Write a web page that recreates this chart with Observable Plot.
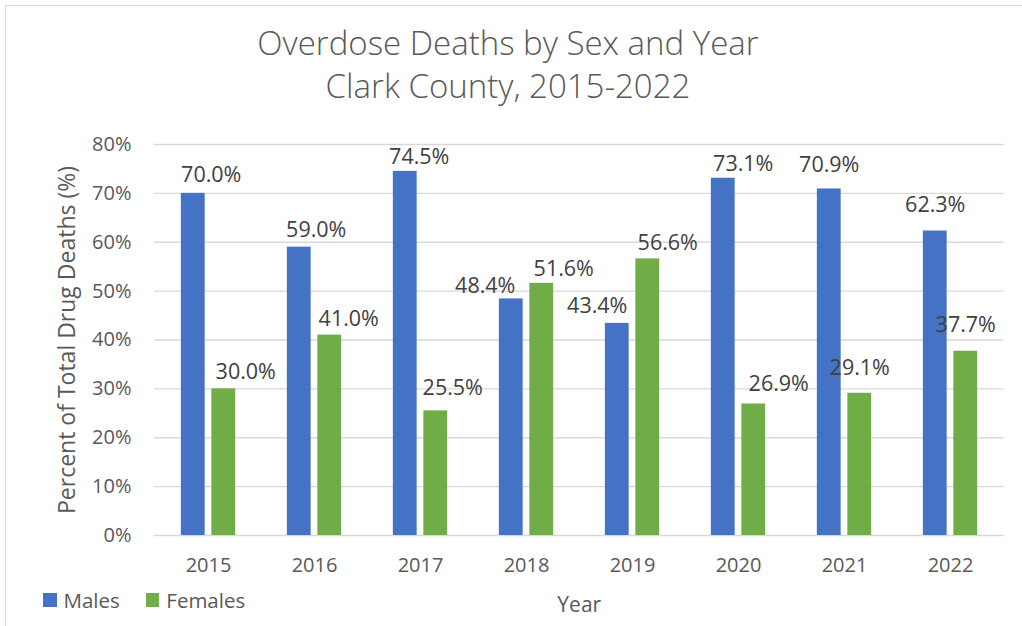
<!DOCTYPE html>
<html>
<head>
<meta charset="utf-8">
<script src="https://cdn.jsdelivr.net/npm/d3@7"></script>
<script src="https://cdn.jsdelivr.net/npm/@observablehq/plot@0.6"></script>
<style>
  body { margin: 0; background: #fff; font-family: "Open Sans", sans-serif; }
  #wrap { position: relative; width: 1022px; height: 626px; overflow: hidden; background: #fff; }
  #border { position: absolute; left: 5px; top: 5px; width: 1100px; height: 700px; border: 1px solid #d9d9d9; z-index: 5; pointer-events: none; }
  #title { position: absolute; left: 0; top: 21px; width: 1016px; text-align: center; font-size: 33px; line-height: 43px; color: #595959; font-weight: 300; }
  #chart { position: absolute; left: 0; top: 120px; }
  #legend { position: absolute; left: 43px; top: 586px; font-size: 20.5px; color: #595959; display: flex; align-items: center; }
  .item { display: flex; align-items: center; margin-right: 26px; }
  .sw { width: 13.5px; height: 13.5px; margin-right: 7px; }
</style>
</head>
<body>
<div id="wrap">
  <div id="border"></div>
  <div id="title">Overdose Deaths by Sex and Year<br>Clark County, 2015-2022</div>
  <div id="chart"></div>
  <div id="legend"></div>
</div>
<script>
// ---- data ----
const years = ["2015", "2016", "2017", "2018", "2019", "2020", "2021", "2022"];
const males = [70.0, 59.0, 74.5, 48.4, 43.4, 73.1, 70.9, 62.3];
const females = [30.0, 41.0, 25.5, 51.6, 56.6, 26.9, 29.1, 37.7];
const seriesNames = ["Males", "Females"];
const yTicks = [0, 10, 20, 30, 40, 50, 60, 70, 80];

// ---- label placement nudges (px: [dx, height above bar top]) ----
const maleLabelNudge = [[18, 18], [17, 17], [14, 14], [-26, 13], [-20, 17], [20, 14], [0, 24], [0, 26]];
const femaleLabelNudge = [[22, 17], [19, 16], [17, 23], [22, 14], [20, 16], [25, 20], [0, 25], [0, 26]];

// ---- styles ----
const seriesColors = ["#4472C4", "#70AD47"];
const W = 1022, H = 506, mL = 154, mR = 18.5, mT = 24, mB = 91;
const step = (W - mL - mR) / years.length;
const barW = 24, gap = 6.5;
const half = step / 2;

const rows = years.map((year, i) => ({ year, male: males[i], female: females[i], i }));

const labelMarks = [];
rows.forEach((r, i) => {
  labelMarks.push(Plot.text([r], {
    x: "year", y: "male", text: d => d.male.toFixed(1) + "%",
    dx: -(gap / 2 + barW / 2) + maleLabelNudge[i][0], dy: -maleLabelNudge[i][1],
    fontSize: 21.5, fill: "#404040"
  }));
  labelMarks.push(Plot.text([r], {
    x: "year", y: "female", text: d => d.female.toFixed(1) + "%",
    dx: (gap / 2 + barW / 2) + femaleLabelNudge[i][0], dy: -femaleLabelNudge[i][1],
    fontSize: 21.5, fill: "#404040"
  }));
});

const chart = Plot.plot({
  width: W, height: H,
  marginLeft: mL, marginRight: mR, marginTop: mT, marginBottom: mB,
  style: { fontFamily: "Open Sans", background: "transparent", overflow: "visible" },
  x: { type: "band", domain: years, padding: 0 },
  y: { domain: [0, 80] },
  marks: [
    Plot.gridY(yTicks, { stroke: "#d9d9d9", strokeOpacity: 1, strokeWidth: 1.3 }),
    Plot.barY(rows, { x: "year", y: "male", fill: seriesColors[0],
      insetLeft: half - gap / 2 - barW, insetRight: half + gap / 2 }),
    Plot.barY(rows, { x: "year", y: "female", fill: seriesColors[1],
      insetLeft: half + gap / 2, insetRight: half - gap / 2 - barW }),
    Plot.axisY({ ticks: yTicks, tickFormat: d => d + "%", tickSize: 0, tickPadding: 23,
      fontSize: 20, color: "#595959", label: null }),
    Plot.axisY({ ticks: [], tickSize: 0, fontSize: 23, color: "#595959",
      label: "Percent of Total Drug Deaths (%)", labelArrow: "none",
      labelAnchor: "center", labelOffset: 96 }),
    Plot.axisX({ tickSize: 0, tickPadding: 22, fontSize: 20, color: "#595959",
      label: null }),
    Plot.axisX({ ticks: [], tickSize: 0, fontSize: 21, color: "#595959",
      label: "Year", labelArrow: "none", labelAnchor: "center", labelOffset: 76 }),
    ...labelMarks
  ]
});
document.getElementById("chart").appendChild(chart);

const legend = document.getElementById("legend");
seriesNames.forEach((name, i) => {
  const item = document.createElement("div");
  item.className = "item";
  const sw = document.createElement("div");
  sw.className = "sw";
  sw.style.background = seriesColors[i];
  const t = document.createElement("span");
  t.textContent = name;
  item.appendChild(sw);
  item.appendChild(t);
  legend.appendChild(item);
});
</script>
</body>
</html>
